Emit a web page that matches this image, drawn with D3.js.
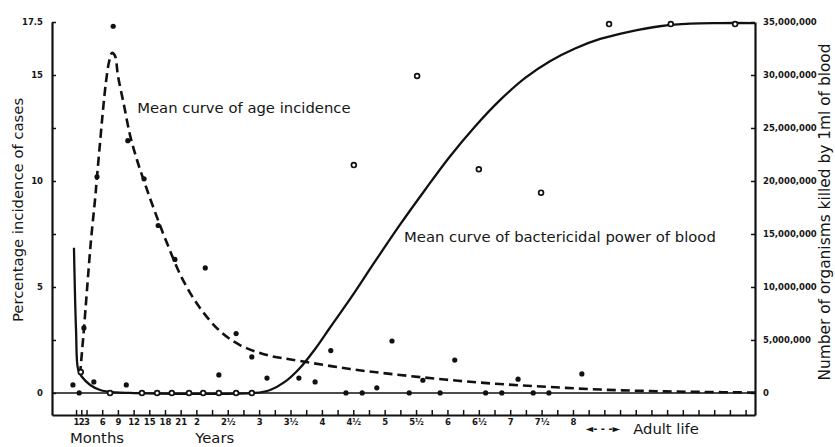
<!DOCTYPE html>
<html>
<head>
<meta charset="utf-8">
<script src="https://cdn.jsdelivr.net/npm/d3@7"></script>
<style>
	body { margin: 0; background: #fff; }
	svg { display: block; }
	text { fill: #161616; }
	.num { font-family: "DejaVu Sans"; font-weight: bold; font-size: 8.5px; }
	.label { font-family: "DejaVu Sans"; font-size: 14.8px; }
</style>
</head>
<body>
<div id="chart"></div>
<script>
// ages are months from birth, anything past 96 months is adult life
const incidenceAges = [0.4, 1.6, 2.5, 4.4, 5.0, 8.1, 10.6, 10.9, 14.0, 16.7, 19.9, 25.7, 28.3, 31.6, 34.6, 37.5, 43.6, 46.7, 49.7, 52.6, 55.7, 58.5, 61.4, 64.7, 67.3, 70.6, 73.4, 79.3, 82.4, 85.5, 88.4, 91.4, 97.7];
const incidencePercent = [0.38, 0, 3.07, 0.52, 10.2, 17.3, 0.38, 11.9, 10.1, 7.9, 6.3, 5.9, 0.85, 2.8, 1.7, 0.7, 0.7, 0.52, 2.0, 0, 0, 0.24, 2.45, 0, 0.6, 0, 1.55, 0, 0, 0.65, 0, 0, 0.9];

const powerAges = [1.9, 7.5, 13.6, 16.5, 19.3, 22.6, 25.3, 28.3, 31.6, 34.6, 54.1, 66.2, 78.0, 89.9, 102.9, 114.7, 127.0];
const powerMillions = [1.98, 0, 0, 0, 0, 0, 0, 0, 0, 0, 21.5, 29.9, 21.1, 18.9, 34.8, 34.8, 34.8];

const incidenceCurveAges = [1.75, 2.13, 2.52, 3.09, 3.86, 4.62, 5.0, 5.58, 6.15, 6.72, 7.3, 7.87, 8.44, 9.02, 10.16, 11.31, 12.65, 14.18, 16.09, 18.38, 21.25, 24.69, 28.51, 32.33, 37.5, 43.81, 53.37, 62.93, 72.48, 82.04, 91.6, 101.16, 110.7, 120.3, 130.8];
const incidenceCurvePercent = [0.85, 1.93, 3.06, 4.86, 7.22, 9.1, 10.19, 11.79, 13.35, 14.67, 15.61, 16.04, 15.9, 14.95, 13.58, 12.17, 10.99, 9.86, 8.54, 7.07, 5.42, 4.01, 2.92, 2.26, 1.79, 1.51, 1.13, 0.85, 0.61, 0.42, 0.28, 0.16, 0.09, 0.05, 0.02];

const powerCurveAges = [0.6, 1.0, 1.4, 2.15, 3.7, 5.6, 8.5, 11.3, 35.2, 38.1, 40.9, 43.8, 46.7, 49.5, 53.4, 58.1, 62.9, 67.7, 72.4, 77.2, 82.0, 86.8, 91.6, 96.4, 101.2, 106.9, 112.6, 118.4, 124.1, 130.8];
const powerCurveMillions = [13.7, 5.9, 2.2, 1.5, 0.75, 0.28, 0.05, 0, 0, 0.28, 1.04, 2.36, 4.15, 6.13, 8.87, 12.36, 15.85, 19.15, 22.27, 25.1, 27.6, 29.7, 31.3, 32.5, 33.4, 34.1, 34.6, 34.85, 34.9, 34.9];

const ageTicks = [1, 2, 3, 6, 9, 12, 15, 18, 21, 24, 27, 30, 33, 36, 39, 42, 45, 48, 51, 54, 57, 60, 63, 66, 69, 72, 75, 78, 81, 84, 87, 90, 93, 96, 99, 102, 105, 108, 111, 114, 117, 120, 123, 126, 129];
const ageTickLabels = { 1: "1", 2: "2", 3: "3", 6: "6", 9: "9", 12: "12", 15: "15", 18: "18", 21: "21", 24: "2", 30: "2\u00bd", 36: "3", 42: "3\u00bd", 48: "4", 54: "4\u00bd", 60: "5", 66: "5\u00bd", 72: "6", 78: "6\u00bd", 84: "7", 90: "7\u00bd", 96: "8" };
const percentTicks = [0, 2.5, 5, 7.5, 10, 12.5, 15, 17.5];
const percentTickLabels = { 0: "0", 5: "5", 10: "10", 15: "15", 17.5: "17.5" };
const millionTicks = [0, 5, 10, 15, 20, 25, 30, 35];

var width = 835, height = 447;
var svg = d3.select("#chart")
	.append("svg")
		.attr("width", width)
		.attr("height", height);

var x = d3.scaleLinear().domain([-3.6, 130.8]).range([52, 755]);
var y = d3.scaleLinear().domain([-1.04, 17.5]).range([415, 22]);
var yRight = d3.scaleLinear().domain([-2.08, 35]).range([415, 22]);

// zero line across the plot
svg.append("line")
	.attr("x1", x.range()[0])
	.attr("x2", x.range()[1])
	.attr("y1", y(0))
	.attr("y2", y(0))
	.attr("stroke", "#111")
	.attr("stroke-width", 1.6);

var left = svg.append("g")
	.attr("transform", "translate(" + x.range()[0] + ",0)")
	.call(d3.axisLeft(y)
		.tickValues(percentTicks)
		.tickSizeInner(-4)
		.tickSizeOuter(0)
		.tickPadding(9)
		.tickFormat(d => percentTickLabels[d] || ""));

var right = svg.append("g")
	.attr("transform", "translate(" + x.range()[1] + ",0)")
	.call(d3.axisRight(yRight)
		.tickValues(millionTicks)
		.tickSizeInner(-4)
		.tickSizeOuter(0)
		.tickPadding(8)
		.tickFormat(d => d3.format(",")(d * 1e6)));

var bottom = svg.append("g")
	.attr("transform", "translate(0," + y.range()[0] + ")")
	.call(d3.axisBottom(x)
		.tickValues(ageTicks)
		.tickSizeInner(-5)
		.tickSizeOuter(0)
		.tickPadding(4)
		.tickFormat(d => ageTickLabels[d] || ""));

[left, right, bottom].forEach(g => {
	g.select(".domain").attr("stroke", "#111").attr("stroke-width", 2.2);
	g.selectAll(".tick line").attr("stroke", "#111").attr("stroke-width", 1.5);
	g.selectAll(".tick text")
		.attr("class", "num")
		.attr("font-family", null)
		.attr("font-size", null);
});

// mean curves
var incidenceLine = d3.line()
	.x((d, i) => x(incidenceCurveAges[i]))
	.y(d => y(d))
	.curve(d3.curveCatmullRom.alpha(0.5));

svg.append("path")
	.attr("d", incidenceLine(incidenceCurvePercent))
	.attr("fill", "none")
	.attr("stroke", "#111")
	.attr("stroke-width", 2.6)
	.attr("stroke-dasharray", "9,5");

var powerLine = d3.line()
	.x((d, i) => x(powerCurveAges[i]))
	.y(d => yRight(d))
	.curve(d3.curveCatmullRom.alpha(0.5));

svg.append("path")
	.attr("d", powerLine(powerCurveMillions))
	.attr("fill", "none")
	.attr("stroke", "#111")
	.attr("stroke-width", 2.3);

// observations
svg.append("g")
	.selectAll("circle")
	.data(incidencePercent)
	.enter()
	.append("circle")
		.attr("cx", (d, i) => x(incidenceAges[i]))
		.attr("cy", d => y(d))
		.attr("r", 2.6)
		.attr("fill", "#111");

svg.append("g")
	.selectAll("circle")
	.data(powerMillions)
	.enter()
	.append("circle")
		.attr("cx", (d, i) => x(powerAges[i]))
		.attr("cy", d => yRight(d))
		.attr("r", 2.4)
		.attr("fill", "#fff")
		.attr("stroke", "#111")
		.attr("stroke-width", 1.7);

// labels
svg.append("text")
	.attr("class", "label")
	.attr("x", x(12.7))
	.attr("y", y(13.2))
	.text("Mean curve of age incidence");

svg.append("text")
	.attr("class", "label")
	.attr("x", x(63.7))
	.attr("y", y(7.12))
	.text("Mean curve of bactericidal power of blood");

svg.append("text")
	.attr("class", "label")
	.attr("transform", "translate(18," + 210 + ")rotate(-90)")
	.attr("dy", "0.35em")
	.attr("text-anchor", "middle")
	.text("Percentage incidence of cases");

svg.append("text")
	.attr("class", "label")
	.attr("transform", "translate(825," + 212 + ")rotate(-90)")
	.attr("dy", "0.35em")
	.attr("text-anchor", "middle")
	.style("font-size", "15.4px")
	.text("Number of organisms killed by 1ml of blood");

svg.append("text")
	.attr("class", "label")
	.attr("x", x(5))
	.attr("y", 443)
	.attr("text-anchor", "middle")
	.text("Months");

svg.append("text")
	.attr("class", "label")
	.attr("x", x(27.5))
	.attr("y", 443)
	.attr("text-anchor", "middle")
	.text("Years");

svg.append("text")
	.attr("class", "num")
	.attr("x", x(98.4))
	.attr("y", 432)
	.style("font-size", "10px")
	.text("\u25c4- - -\u25ba");

svg.append("text")
	.attr("class", "label")
	.attr("x", x(107.5))
	.attr("y", 434)
	.text("Adult life");
</script>
</body>
</html>
